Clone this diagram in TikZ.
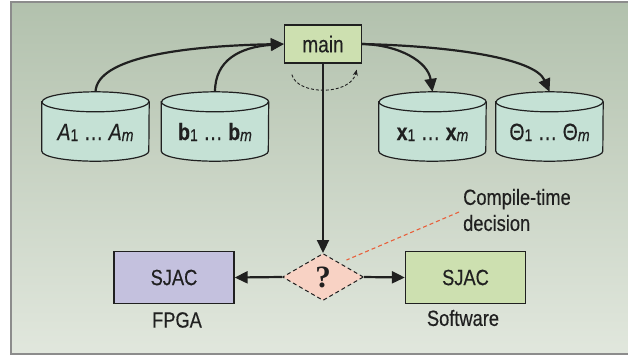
\documentclass[tikz,border=0pt]{standalone}
\usepackage{fontspec}
\setmainfont{Liberation Sans}[FakeStretch=0.83, FakeBold=0.4]
\newfontfamily\qfont{Liberation Serif}
\usetikzlibrary{shapes.geometric,arrows.meta,calc}

\definecolor{bgtop}{RGB}{178,193,173}
\definecolor{bgbot}{RGB}{225,231,221}
\definecolor{framegray}{RGB}{140,140,140}
\definecolor{tankfill}{RGB}{197,225,213}
\definecolor{greenbox}{RGB}{205,224,176}
\definecolor{violetbox}{RGB}{196,193,222}
\definecolor{pinkdiam}{RGB}{248,210,196}
\definecolor{notered}{RGB}{232,96,60}
\definecolor{ink}{RGB}{32,32,32}

\pgfdeclarelayer{backdrop}
\pgfdeclarelayer{tanks}
\pgfsetlayers{backdrop,tanks,main}

% small index set on the baseline
\newcommand\idx[1]{\raisebox{-1pt}{\fontsize{17}{17}\selectfont#1}}

% outline of a storage cylinder around a named node
\newcommand\tankoutline[1]{%
  \begin{pgfonlayer}{tanks}
    \filldraw[fill=tankfill, draw=ink, line width=1.2pt]
      let \p1=(#1.north west), \p2=(#1.south east) in
      (\x1,\y1-10pt) -- (\x1,\y2+10pt)
      arc[start angle=180, end angle=360, x radius=53.5pt, y radius=10pt]
      -- (\x2,\y1-10pt)
      arc[start angle=0, end angle=180, x radius=53.5pt, y radius=10pt]
      -- cycle;
    \draw[draw=ink, line width=1.2pt]
      let \p1=(#1.north west) in
      (\x1,\y1-10pt)
      arc[start angle=180, end angle=360, x radius=53.5pt, y radius=10pt];
  \end{pgfonlayer}}

\tikzset{
  every node/.style={text=ink, font=\fontsize{22}{26}\selectfont},
  tank/.style={minimum width=107pt, inner sep=0pt, text height=48pt, text depth=21pt,
    font=\fontsize{23.5}{26}\selectfont},
  box/.style={draw=ink, line width=1.3pt, inner sep=0pt},
  caption/.style={inner sep=0pt},
  flow/.style={draw=ink, line width=2.2pt, -{Triangle[length=13pt,width=12pt]}},
  loopline/.style={draw=ink, line width=0.9pt, dash pattern=on 3pt off 2pt,
    -{Stealth[length=6pt,width=5pt]}},
  noteline/.style={draw=notered, line width=1.1pt, dash pattern=on 4pt off 3pt},
}

\begin{document}
\begin{tikzpicture}[x=1pt, y=-1pt]
  \useasboundingbox (0,0) rectangle (628,360);

  % panel
  \begin{pgfonlayer}{backdrop}
    \shade[top color=bgtop, bottom color=bgbot] (11,2) rectangle (640,354);
    \draw[framegray, line width=1.5pt] (11,2) rectangle (640,354);
  \end{pgfonlayer}

  % nodes
  \node[box, fill=greenbox, minimum width=77pt, minimum height=38pt] (main) at (323,44)
    {\fontsize{23}{26}\selectfont main};

  \node[tank] (A) at (95.5,126.5) {\textit{A}\idx{1} … \textit{A}\idx{\textit{m}}};
  \node[tank] (B) at (215,126.5) {\textbf{b}\idx{1} … \textbf{b}\idx{\textit{m}}};
  \node[tank] (X) at (432.5,126.5) {\textbf{x}\idx{1} … \textbf{x}\idx{\textit{m}}};
  \node[tank] (T) at (549.5,126.5) {Θ\idx{1} … Θ\idx{\textit{m}}};
  \tankoutline{A}
  \tankoutline{B}
  \tankoutline{X}
  \tankoutline{T}

  \node[diamond, draw=ink, fill=pinkdiam, line width=1pt, dash pattern=on 4pt off 3pt,
        minimum width=81pt, minimum height=47pt, inner sep=0pt] (q) at (323,277)
        {\qfont\bfseries\fontsize{31}{31}\selectfont ?};

  \node[box, fill=violetbox, minimum width=120pt, minimum height=52pt] (fpga) at (174,277.5) {SJAC\hspace{12pt}};
  \node[box, fill=greenbox, minimum width=120pt, minimum height=52pt] (sw) at (465.5,277.5) {SJAC\hspace{11pt}};

  \node[caption] (fpgalabel) at (177,320) {FPGA};
  \node[caption] (swlabel) at (463,318) {Software};
  \node[caption, align=left, anchor=west] (note) at (463,210) {Compile-time\\decision};

  % data flow into and out of main
  \draw[flow] (A.north) .. controls (97,58) and (180,46) .. (main.west);
  \draw[flow] (B.north) .. controls (215,60) and (240,47) .. (main.west);
  \draw[flow] (main.east) .. controls (400,45) and (428,62) .. (X.north);
  \draw[flow] (main.east) .. controls (450,46) and (535,58) .. (T.north);

  % iteration loop under main
  \draw[loopline] ($(main.south west)+(8,11)$)
    .. controls ($(main.south west)+(13.5,32)$) and ($(main.south east)+(-11.5,32)$)
    .. ($(main.south east)+(-5.5,6)$);

  % decision
  \draw[flow] (main.south) -- (q.north);
  \draw[flow] (q.west) -- (fpga.east);
  \draw[flow] (q.east) -- (sw.west);
  \draw[noteline] ($(note.west)+(-4,2)$) -- ($(q.north east)+(3,-5)$);
\end{tikzpicture}
\end{document}
